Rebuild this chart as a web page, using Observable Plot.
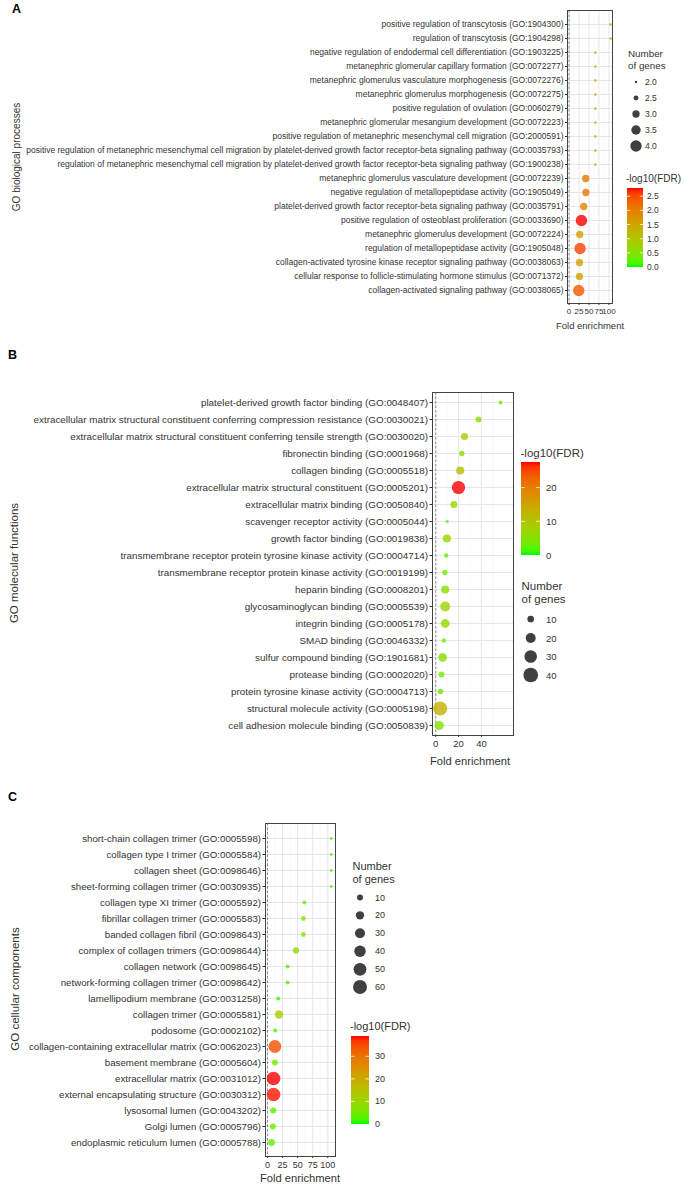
<!DOCTYPE html>
<html><head><meta charset="utf-8">
<script src="https://cdn.jsdelivr.net/npm/d3@7"></script>
<script src="https://cdn.jsdelivr.net/npm/@observablehq/plot@0.6"></script>
<style>
html,body{margin:0;padding:0;background:#fff;}
#root{position:relative;width:685px;height:1192px;overflow:hidden;background:#fff;}
</style></head><body><div id="root"></div>
<script>
// ---------- Panel A: GO biological processes ----------
const termsA = [
  "positive regulation of transcytosis (GO:1904300)",
  "regulation of transcytosis (GO:1904298)",
  "negative regulation of endodermal cell differentiation (GO:1903225)",
  "metanephric glomerular capillary formation (GO:0072277)",
  "metanephric glomerulus vasculature morphogenesis (GO:0072276)",
  "metanephric glomerulus morphogenesis (GO:0072275)",
  "positive regulation of ovulation (GO:0060279)",
  "metanephric glomerular mesangium development (GO:0072223)",
  "positive regulation of metanephric mesenchymal cell migration (GO:2000591)",
  "positive regulation of metanephric mesenchymal cell migration by platelet-derived growth factor receptor-beta signaling pathway (GO:0035793)",
  "regulation of metanephric mesenchymal cell migration by platelet-derived growth factor receptor-beta signaling pathway (GO:1900238)",
  "metanephric glomerulus vasculature development (GO:0072239)",
  "negative regulation of metallopeptidase activity (GO:1905049)",
  "platelet-derived growth factor receptor-beta signaling pathway (GO:0035791)",
  "positive regulation of osteoblast proliferation (GO:0033690)",
  "metanephric glomerulus development (GO:0072224)",
  "regulation of metallopeptidase activity (GO:1905048)",
  "collagen-activated tyrosine kinase receptor signaling pathway (GO:0038063)",
  "cellular response to follicle-stimulating hormone stimulus (GO:0071372)",
  "collagen-activated signaling pathway (GO:0038065)"
];
const foldA  = [104, 104, 66, 66, 66, 66, 66, 66, 66, 66, 66, 41.7, 42.2, 36.7, 31, 26.7, 27.5, 26, 26, 24.2];
const genesA = [2, 2, 2, 2, 2, 2, 2, 2, 2, 2, 2, 3, 3, 3, 4, 3, 4, 3, 3, 4];
const fdrA   = [1.55, 1.55, 1.55, 1.55, 1.55, 1.55, 1.55, 1.55, 1.55, 1.55, 1.55, 2.1, 2.1, 2.0, 2.79, 1.6, 2.55, 1.55, 1.55, 2.4];
const xTicksA = [0, 25, 50, 75, 100];
const sizeBreaksA = [2, 2.5, 3, 3.5, 4];
const colorBreaksA = [0, 0.5, 1, 1.5, 2, 2.5];

// ---------- Panel B: GO molecular functions ----------
const termsB = [
  "platelet-derived growth factor binding (GO:0048407)",
  "extracellular matrix structural constituent conferring compression resistance (GO:0030021)",
  "extracellular matrix structural constituent conferring tensile strength (GO:0030020)",
  "fibronectin binding (GO:0001968)",
  "collagen binding (GO:0005518)",
  "extracellular matrix structural constituent (GO:0005201)",
  "extracellular matrix binding (GO:0050840)",
  "scavenger receptor activity (GO:0005044)",
  "growth factor binding (GO:0019838)",
  "transmembrane receptor protein tyrosine kinase activity (GO:0004714)",
  "transmembrane receptor protein kinase activity (GO:0019199)",
  "heparin binding (GO:0008201)",
  "glycosaminoglycan binding (GO:0005539)",
  "integrin binding (GO:0005178)",
  "SMAD binding (GO:0046332)",
  "sulfur compound binding (GO:1901681)",
  "protease binding (GO:0002020)",
  "protein tyrosine kinase activity (GO:0004713)",
  "structural molecule activity (GO:0005198)",
  "cell adhesion molecule binding (GO:0050839)"
];
const foldB  = [56.6, 37.4, 25.2, 22.8, 21.4, 19.9, 15.9, 10.0, 9.8, 9.2, 8.0, 8.3, 8.3, 8.3, 7.1, 6.0, 5.1, 4.2, 3.9, 3.1];
const genesB = [4, 8, 11, 7, 14, 33, 11, 3, 14, 5, 7, 14, 20, 16, 5, 16, 8, 7, 37, 17];
const fdrB   = [5, 6, 8, 5.5, 11, 27.6, 6.5, 2, 7, 2.5, 3, 6, 7.5, 6.5, 2.5, 5.5, 3, 2.5, 13, 4.5];
const xTicksB = [0, 20, 40];
const sizeBreaksB = [10, 20, 30, 40];
const colorBreaksB = [0, 10, 20];

// ---------- Panel C: GO cellular components ----------
const termsC = [
  "short-chain collagen trimer (GO:0005598)",
  "collagen type I trimer (GO:0005584)",
  "collagen sheet (GO:0098646)",
  "sheet-forming collagen trimer (GO:0030935)",
  "collagen type XI trimer (GO:0005592)",
  "fibrillar collagen trimer (GO:0005583)",
  "banded collagen fibril (GO:0098643)",
  "complex of collagen trimers (GO:0098644)",
  "collagen network (GO:0098645)",
  "network-forming collagen trimer (GO:0098642)",
  "lamellipodium membrane (GO:0031258)",
  "collagen trimer (GO:0005581)",
  "podosome (GO:0002102)",
  "collagen-containing extracellular matrix (GO:0062023)",
  "basement membrane (GO:0005604)",
  "extracellular matrix (GO:0031012)",
  "external encapsulating structure (GO:0030312)",
  "lysosomal lumen (GO:0043202)",
  "Golgi lumen (GO:0005796)",
  "endoplasmic reticulum lumen (GO:0005788)"
];
const foldC  = [105.7, 105.7, 105.7, 105.7, 61.2, 59.5, 59.5, 47.3, 33.3, 33.3, 17.8, 19, 12.8, 12.3, 12.3, 10, 10, 9.5, 9, 6.7];
const genesC = [2, 2, 2, 2, 4, 6, 6, 11, 4, 4, 4, 20, 4, 50, 10, 57, 57, 10, 10, 13];
const fdrC   = [2.5, 2.5, 2.5, 2.5, 3.5, 6, 6, 10, 3, 3, 1.5, 11.5, 1.5, 34.5, 5, 39, 38.5, 3, 3.5, 3.5];
const xTicksC = [0, 25, 50, 75, 100];
const sizeBreaksC = [10, 20, 30, 40, 50, 60];
const colorBreaksC = [0, 10, 20, 30];

// ---------- drawing ----------
const FONT = '"Liberation Sans", Arial, sans-serif';
const W = 685;
const root = document.getElementById("root");
const LOW = "#00ff00", HIGH = "#ff0000";

function panel(c) {
  const data = c.terms.map((t, i) => ({term: t, fold: c.fold[i], genes: c.genes[i], fdr: c.fdr[i]}));
  const step = c.xTicks[1] - c.xTicks[0];
  const minor = [];
  for (let v = c.xTicks[0] + step / 2; v < c.xDomain[1]; v += step) minor.push(v);
  const chart = Plot.plot({
    width: W,
    height: c.height,
    marginLeft: c.left,
    marginRight: W - c.right,
    marginTop: c.frameTop - c.top,
    marginBottom: c.top + c.height - c.frameBottom,
    style: {background: "transparent", fontFamily: FONT, overflow: "visible"},
    x: {domain: c.xDomain},
    y: {type: "point", domain: c.terms, padding: c.pad},
    r: {type: "sqrt", domain: c.rDomain, range: c.rRange},
    color: {type: "linear", domain: c.colorDomain, range: [LOW, HIGH], interpolate: "lab"},
    marks: [
      Plot.gridX(minor, {stroke: "#f3f3f3", strokeOpacity: 1, strokeWidth: 0.6}),
      Plot.gridX(c.xTicks, {stroke: "#e3e3e3", strokeOpacity: 1, strokeWidth: 0.9}),
      Plot.gridY(c.terms, {stroke: "#e3e3e3", strokeOpacity: 1, strokeWidth: 0.9}),
      Plot.ruleX([0], {stroke: "#777", strokeDasharray: "2.5,2", strokeWidth: 0.8}),
      Plot.dot(data, {x: "fold", y: "term", r: "genes", fill: "fdr", fillOpacity: 0.8}),
      Plot.frame({stroke: "#444", strokeWidth: 1}),
      Plot.axisY({tickSize: c.tick, tickPadding: 2, fontSize: c.yFont, color: "#333", label: null}),
      Plot.axisX(c.xTicks, {tickSize: 2, tickPadding: 3, fontSize: c.xFont, color: "#333", label: null})
    ]
  });
  chart.style.position = "absolute";
  chart.style.left = "0px";
  chart.style.top = c.top + "px";
  root.appendChild(chart);
  return chart;
}

const chartA = panel({terms: termsA, fold: foldA, genes: genesA, fdr: fdrA, xTicks: xTicksA,
  top: 0, height: 335, frameTop: 10, frameBottom: 303, left: 567, right: 612, pad: 0.6,
  xDomain: [-4, 109], rDomain: [2, 4], rRange: [1.2, 5.7], colorDomain: [0, 2.79],
  yFont: 8.5, xFont: 8, tick: 2});
const chartB = panel({terms: termsB, fold: foldB, genes: genesB, fdr: fdrB, xTicks: xTicksB,
  top: 380, height: 400, frameTop: 392, frameBottom: 735, left: 432, right: 513, pad: 0.55,
  xDomain: [-2.8, 68], rDomain: [10, 40], rRange: [3.35, 7.35], colorDomain: [0, 27.6],
  yFont: 9.85, xFont: 9.5, tick: 2.5});
const chartC = panel({terms: termsC, fold: foldC, genes: genesC, fdr: fdrC, xTicks: xTicksC,
  top: 810, height: 382, frameTop: 823, frameBottom: 1156, left: 265, right: 335, pad: 0.65,
  xDomain: [-3.3, 112.8], rDomain: [10, 60], rRange: [3, 7], colorDomain: [0, 39],
  yFont: 9.7, xFont: 9, tick: 2.5});

// ---------- overlay: titles and legends ----------
const ov = d3.select(root).append("svg")
  .attr("width", W).attr("height", 1192)
  .style("position", "absolute").style("left", "0px").style("top", "0px")
  .style("font-family", FONT).style("pointer-events", "none");

function text(x, y, s, o = {}) {
  const t = ov.append("text").attr("x", x).attr("y", y).text(s)
    .attr("font-size", o.size || 10).attr("fill", o.fill || "#333")
    .attr("text-anchor", o.anchor || "start").attr("dominant-baseline", "central");
  if (o.weight) t.attr("font-weight", o.weight);
  if (o.rotate) t.attr("transform", `rotate(${o.rotate},${x},${y})`);
  return t;
}

function colorFn(chart, domain) {
  const s = chart.scale("color");
  if (s && s.apply) return v => s.apply(v);
  return d3.scaleLinear(domain, [LOW, HIGH]).interpolate(d3.interpolateLab);
}
function radiusFn(chart, c) {
  const s = chart.scale("r");
  if (s && s.apply) return v => s.apply(v);
  return d3.scaleSqrt(c.rDomain, c.rRange);
}

let gid = 0;
function colorbar(chart, o) {
  const col = colorFn(chart, o.domain);
  const id = "grad" + (gid++);
  const g = ov.append("defs").append("linearGradient").attr("id", id)
    .attr("x1", 0).attr("y1", 1).attr("x2", 0).attr("y2", 0);
  for (let i = 0; i <= 20; i++) {
    const t = i / 20;
    g.append("stop").attr("offset", t).attr("stop-color", col(o.domain[0] + t * (o.domain[1] - o.domain[0])));
  }
  text(o.titleX, o.titleY, "-log10(FDR)", {size: o.titleSize});
  ov.append("rect").attr("x", o.x).attr("y", o.y0).attr("width", o.w).attr("height", o.y1 - o.y0)
    .attr("fill", `url(#${id})`);
  const ys = d3.scaleLinear(o.domain, [o.y1, o.y0]);
  for (const v of o.breaks) {
    const y = ys(v);
    if (v !== o.domain[0]) {
      ov.append("line").attr("x1", o.x).attr("x2", o.x + o.w * 0.2).attr("y1", y).attr("y2", y).attr("stroke", "#fff").attr("stroke-width", 0.8);
      ov.append("line").attr("x1", o.x + o.w * 0.8).attr("x2", o.x + o.w).attr("y1", y).attr("y2", y).attr("stroke", "#fff").attr("stroke-width", 0.8);
    }
    text(o.labelX, y, o.fmt(v), {size: o.labelSize});
  }
}

function sizeLegend(chart, c, o) {
  const rf = radiusFn(chart, c);
  text(o.titleX, o.titleY, "Number", {size: o.titleSize});
  text(o.titleX, o.titleY + o.titleGap, "of genes", {size: o.titleSize});
  o.breaks.forEach((v, i) => {
    ov.append("circle").attr("cx", o.x).attr("cy", o.ys[i]).attr("r", rf(v))
      .attr("fill", "#000").attr("fill-opacity", 0.75);
    text(o.labelX, o.ys[i], o.fmt(v), {size: o.labelSize});
  });
}

// panel letters
text(12, 9, "A", {size: 12.5, weight: "bold", fill: "#000"});
text(8, 355, "B", {size: 12.5, weight: "bold", fill: "#000"});
text(8, 797, "C", {size: 12.5, weight: "bold", fill: "#000"});

// y-axis titles
text(16, 157, "GO biological processes", {size: 10, anchor: "middle", rotate: -90});
text(14, 563, "GO molecular functions", {size: 11.5, anchor: "middle", rotate: -90});
text(15, 989, "GO cellular components", {size: 11.5, anchor: "middle", rotate: -90});

// x-axis titles
text(590, 325, "Fold enrichment", {size: 9.5, anchor: "middle"});
text(470, 761, "Fold enrichment", {size: 11.2, anchor: "middle"});
text(300, 1178, "Fold enrichment", {size: 11.2, anchor: "middle"});

// legends A
sizeLegend(chartA, {rDomain: [2, 4], rRange: [1.2, 5.7]}, {
  titleX: 628, titleY: 53, titleGap: 12.5, titleSize: 9.8, x: 636, ys: [82, 98, 114, 130, 146],
  breaks: sizeBreaksA, labelX: 645, labelSize: 8.5, fmt: v => v.toFixed(1)});
colorbar(chartA, {domain: [0, 2.79], x: 627, w: 16, y0: 188, y1: 267, titleX: 626, titleY: 178,
  titleSize: 10, breaks: colorBreaksA, labelX: 647, labelSize: 8.5, fmt: v => v.toFixed(1)});

// legends B
colorbar(chartB, {domain: [0, 27.6], x: 521, w: 19, y0: 462, y1: 555, titleX: 520.5, titleY: 452.5,
  titleSize: 11.5, breaks: colorBreaksB, labelX: 546, labelSize: 9.5, fmt: v => String(v)});
sizeLegend(chartB, {rDomain: [10, 40], rRange: [3.35, 7.35]}, {
  titleX: 521.5, titleY: 586, titleGap: 12.7, titleSize: 11.5, x: 530.7, ys: [619, 638, 656.5, 675],
  breaks: sizeBreaksB, labelX: 546, labelSize: 9.5, fmt: v => String(v)});

// legends C
sizeLegend(chartC, {rDomain: [10, 60], rRange: [3, 7]}, {
  titleX: 352.5, titleY: 866, titleGap: 12.5, titleSize: 11, x: 360, ys: [897.5, 915.3, 933.2, 951.3, 969.3, 987],
  breaks: sizeBreaksC, labelX: 375, labelSize: 9, fmt: v => String(v)});
colorbar(chartC, {domain: [0, 39], x: 351, w: 18, y0: 1036, y1: 1124, titleX: 350, titleY: 1026,
  titleSize: 11, breaks: colorBreaksC, labelX: 375, labelSize: 9, fmt: v => String(v)});
</script>
</body></html>
